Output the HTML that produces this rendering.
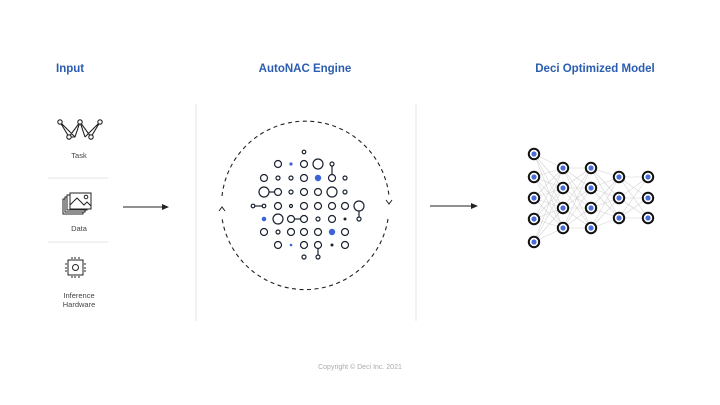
<!DOCTYPE html>
<html><head><meta charset="utf-8"><style>
html,body{margin:0;padding:0;background:#fff;}
svg{display:block;}
text{font-family:"Liberation Sans",sans-serif;}
</style></head><body>
<svg width="720" height="405" viewBox="0 0 720 405" xmlns="http://www.w3.org/2000/svg">
<g font-weight="bold" font-size="11.5" fill="#2a5db0">
<text x="56" y="72">Input</text>
<text x="305" y="72" text-anchor="middle">AutoNAC Engine</text>
<text x="595" y="72" text-anchor="middle">Deci Optimized Model</text>
</g>
<g stroke="#e6e6e6" stroke-width="1">
<line x1="196" y1="104" x2="196" y2="321"/>
<line x1="416" y1="104" x2="416" y2="321"/>
<line x1="48" y1="178" x2="108" y2="178"/>
<line x1="48" y1="242" x2="108" y2="242"/>
</g>
<!-- task icon -->
<g stroke="#222" stroke-width="1.1" fill="none">
<path d="M60 122 L69 137 L80 122 L91 137 L100 122 M60 122 L75 137 M69 137 L80 122 M80 122 L91 137 M85 137 L100 122 M69 137 L75 137 M75 137 L80 122 L85 137"/>
<circle cx="60" cy="122" r="2.2" fill="#fff"/><circle cx="80" cy="122" r="2.2" fill="#fff"/><circle cx="100" cy="122" r="2.2" fill="#fff"/>
<circle cx="69" cy="137" r="2.2" fill="#fff"/><circle cx="91" cy="137" r="2.2" fill="#fff"/>
</g>
<g font-size="7.5" fill="#444" text-anchor="middle">
<text x="79" y="158">Task</text>
<text x="79" y="231">Data</text>
<text x="79" y="298">Inference</text>
<text x="79" y="307">Hardware</text>
</g>
<!-- data icon -->
<g stroke="#222" stroke-width="1" fill="#fff">
<rect x="63" y="199" width="20" height="15"/>
<rect x="65" y="197" width="20" height="15"/>
<rect x="67" y="195" width="20" height="15"/>
<rect x="70" y="193" width="21" height="16"/>
<path d="M70 205 L77 198 L84 205 L87 202 L91 206" fill="none"/>
<circle cx="86" cy="197" r="1.8"/>
</g>
<!-- chip -->
<g stroke="#222" stroke-width="1" fill="none">
<rect x="68" y="260" width="15" height="15"/>
<circle cx="75.5" cy="267.5" r="3"/>
<path d="M72 257v2M75 257v2M79 257v2M72 276v2M75 276v2M79 276v2M65 264h2M65 268h2M65 271h2M84 264h2M84 268h2M84 271h2"/>
</g>
<!-- arrows -->
<g stroke="#222" stroke-width="1">
<line x1="123" y1="207" x2="164" y2="207"/>
<line x1="430" y1="206" x2="473" y2="206"/>
</g>
<path d="M169 207 L162 204 L162 210Z" fill="#222"/>
<path d="M478 206 L471 203 L471 209Z" fill="#222"/>
<!-- dashed circle -->
<g stroke="#222" stroke-width="1.1" fill="none" stroke-dasharray="4 3.5">
<path d="M388 219 A84 84 0 0 1 222 218"/>
<path d="M222 196 A84 84 0 0 1 389 196"/>
</g>
<g stroke="#222" stroke-width="1" fill="none">
<path d="M386 200 L389 204 L392 200"/>
<path d="M219 211 L222 207 L225 211"/>
</g>
<!-- grid -->
<g stroke="#1a2230" stroke-width="1.2" fill="none">
<line x1="332" y1="164" x2="332" y2="178"/>
<line x1="264" y1="192" x2="278" y2="192"/>
<line x1="253" y1="206" x2="264" y2="206"/>
<line x1="359" y1="206" x2="359" y2="219"/>
<line x1="291" y1="219" x2="304" y2="219"/>
<line x1="318" y1="245" x2="318" y2="257"/>
</g>
<g stroke="#1a2230" stroke-width="1.2" fill="#fff">
<circle cx="304" cy="152" r="1.8"/>
<circle cx="278" cy="164" r="3.5"/><circle cx="304" cy="164" r="3.5"/><circle cx="318" cy="164" r="5"/><circle cx="332" cy="164" r="2"/>
<circle cx="264" cy="178" r="3.5"/><circle cx="278" cy="178" r="2"/><circle cx="291" cy="178" r="2"/><circle cx="304" cy="178" r="3.5"/><circle cx="332" cy="178" r="3.5"/><circle cx="345" cy="178" r="2"/>
<circle cx="264" cy="192" r="5"/><circle cx="278" cy="192" r="3.5"/><circle cx="291" cy="192" r="2"/><circle cx="304" cy="192" r="3.5"/><circle cx="318" cy="192" r="3.5"/><circle cx="332" cy="192" r="5"/><circle cx="345" cy="192" r="2"/>
<circle cx="253" cy="206" r="1.8"/><circle cx="264" cy="206" r="1.8"/><circle cx="278" cy="206" r="3.5"/><circle cx="291" cy="206" r="1.5"/><circle cx="304" cy="206" r="3.5"/><circle cx="318" cy="206" r="3.5"/><circle cx="332" cy="206" r="3.5"/><circle cx="345" cy="206" r="3.5"/><circle cx="359" cy="206" r="5"/>
<circle cx="278" cy="219" r="5"/><circle cx="291" cy="219" r="3.5"/><circle cx="304" cy="219" r="3.5"/><circle cx="318" cy="219" r="2"/><circle cx="332" cy="219" r="3.5"/><circle cx="359" cy="219" r="2"/>
<circle cx="264" cy="232" r="3.5"/><circle cx="278" cy="232" r="2"/><circle cx="291" cy="232" r="3.5"/><circle cx="304" cy="232" r="3.5"/><circle cx="318" cy="232" r="3.5"/><circle cx="345" cy="232" r="3.5"/>
<circle cx="278" cy="245" r="3.5"/><circle cx="304" cy="245" r="3.5"/><circle cx="318" cy="245" r="3.5"/><circle cx="345" cy="245" r="3.5"/>
<circle cx="304" cy="257" r="2"/><circle cx="318" cy="257" r="2"/>
</g>
<g fill="#3b63d6">
<circle cx="291" cy="164" r="1.6"/><circle cx="318" cy="178" r="3.2"/><circle cx="264" cy="219" r="2.3"/><circle cx="332" cy="232" r="3.2"/><circle cx="291" cy="245" r="1.3"/>
</g>
<g fill="#1a2230"><circle cx="345" cy="219" r="1.5"/><circle cx="332" cy="245" r="1.5"/></g>
<!-- network -->
<g stroke="#d4d4d4" stroke-width="0.6" id="edges">
<path d="M534 154L563 168M534 154L563 188M534 154L563 208M534 154L563 228M534 177L563 168M534 177L563 188M534 177L563 208M534 177L563 228M534 198L563 168M534 198L563 188M534 198L563 208M534 198L563 228M534 219L563 168M534 219L563 188M534 219L563 208M534 219L563 228M534 242L563 168M534 242L563 188M534 242L563 208M534 242L563 228"/>
<path d="M563 168L591 168M563 168L591 188M563 168L591 208M563 168L591 228M563 188L591 168M563 188L591 188M563 188L591 208M563 188L591 228M563 208L591 168M563 208L591 188M563 208L591 208M563 208L591 228M563 228L591 168M563 228L591 188M563 228L591 208M563 228L591 228"/>
<path d="M591 168L619 177M591 168L619 198M591 168L619 218M591 188L619 177M591 188L619 198M591 188L619 218M591 208L619 177M591 208L619 198M591 208L619 218M591 228L619 177M591 228L619 198M591 228L619 218"/>
<path d="M619 177L648 177M619 177L648 198M619 177L648 218M619 198L648 177M619 198L648 198M619 198L648 218M619 218L648 177M619 218L648 198M619 218L648 218"/>
</g>
<g stroke="#111" stroke-width="2" fill="#fff">
<circle cx="534" cy="154" r="5.2"/><circle cx="534" cy="177" r="5.2"/><circle cx="534" cy="198" r="5.2"/><circle cx="534" cy="219" r="5.2"/><circle cx="534" cy="242" r="5.2"/>
<circle cx="563" cy="168" r="5.2"/><circle cx="563" cy="188" r="5.2"/><circle cx="563" cy="208" r="5.2"/><circle cx="563" cy="228" r="5.2"/>
<circle cx="591" cy="168" r="5.2"/><circle cx="591" cy="188" r="5.2"/><circle cx="591" cy="208" r="5.2"/><circle cx="591" cy="228" r="5.2"/>
<circle cx="619" cy="177" r="5.2"/><circle cx="619" cy="198" r="5.2"/><circle cx="619" cy="218" r="5.2"/>
<circle cx="648" cy="177" r="5.2"/><circle cx="648" cy="198" r="5.2"/><circle cx="648" cy="218" r="5.2"/>
</g>
<g fill="#4a6fd4">
<circle cx="534" cy="154" r="2.6"/><circle cx="534" cy="177" r="2.6"/><circle cx="534" cy="198" r="2.6"/><circle cx="534" cy="219" r="2.6"/><circle cx="534" cy="242" r="2.6"/>
<circle cx="563" cy="168" r="2.6"/><circle cx="563" cy="188" r="2.6"/><circle cx="563" cy="208" r="2.6"/><circle cx="563" cy="228" r="2.6"/>
<circle cx="591" cy="168" r="2.6"/><circle cx="591" cy="188" r="2.6"/><circle cx="591" cy="208" r="2.6"/><circle cx="591" cy="228" r="2.6"/>
<circle cx="619" cy="177" r="2.6"/><circle cx="619" cy="198" r="2.6"/><circle cx="619" cy="218" r="2.6"/>
<circle cx="648" cy="177" r="2.6"/><circle cx="648" cy="198" r="2.6"/><circle cx="648" cy="218" r="2.6"/>
</g>
<text x="360" y="369" font-size="7" fill="#aaa" text-anchor="middle">Copyright © Deci Inc. 2021</text>
</svg>
</body></html>
